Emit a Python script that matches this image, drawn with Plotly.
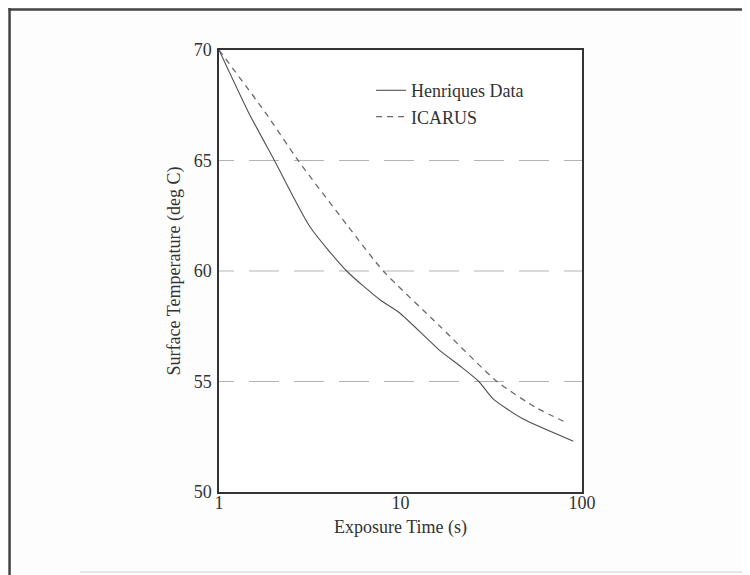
import plotly.graph_objects as go

henriques_t = [1.0, 1.45, 2.02, 3.17, 5.05, 7.7, 9.9, 16.5, 21.3, 27.0, 32.5, 47.5, 89.6]
henriques_temp = [70.0, 67.2, 65.0, 62.0, 60.0, 58.7, 58.1, 56.4, 55.7, 55.0, 54.2, 53.3, 52.3]

icarus_t = [1.0, 1.79, 2.73, 5.16, 8.04, 16.5, 34.0, 56.3, 84.0]
icarus_temp = [70.0, 67.2, 65.0, 62.0, 60.0, 57.5, 55.0, 53.8, 53.1]

x_ticks = [1, 10, 100]
y_ticks = [50, 55, 60, 65, 70]
grid_levels = [55, 60, 65]
grid_x_span = [0.827, 100]

font = "Liberation Serif, Times New Roman, serif"

fig = go.Figure()
for yv in grid_levels:
    fig.add_trace(go.Scatter(x=grid_x_span, y=[yv, yv], mode="lines", showlegend=False, hoverinfo="skip",
                             line=dict(color="#b3b3b3", width=1, dash="30px,15px")))

fig.add_trace(go.Scatter(x=henriques_t, y=henriques_temp, mode="lines", name="Henriques Data",
                         line=dict(color="#505050", width=1.1, shape="spline", smoothing=0.6)))
fig.add_trace(go.Scatter(x=icarus_t, y=icarus_temp, mode="lines", name="ICARUS",
                         line=dict(color="#6a6a6a", width=1.3, dash="6px,5px", shape="spline", smoothing=0.6)))

fig.update_layout(
    width=750, height=575,
    margin=dict(l=211, r=176, t=42, b=91),
    paper_bgcolor="#fdfdfd", plot_bgcolor="#ffffff",
    font=dict(family=font, size=18, color="#333333"),
    showlegend=True,
    legend=dict(x=0.419, y=0.95, xanchor="left", yanchor="top", bgcolor="rgba(0,0,0,0)",
                font=dict(family=font, size=18, color="#333333"), itemwidth=30, tracegroupgap=0),
    xaxis=dict(type="log", range=[0, 2], tickvals=x_ticks, ticktext=[str(v) for v in x_ticks],
               showgrid=False, showline=True, linecolor="#333333", linewidth=1.5, mirror=True,
               ticks="", zeroline=False, tickfont=dict(size=18), ticklabelstandoff=-6,
               title=dict(text="Exposure Time (s)", font=dict(size=18), standoff=8)),
    yaxis=dict(range=[50, 70], tickvals=y_ticks, showgrid=False, showline=True, linecolor="#333333",
               linewidth=1.5, mirror=True, ticks="", zeroline=False, tickfont=dict(size=18),
               ticklabelstandoff=2,
               title=dict(text="Surface Temperature (deg C)", font=dict(size=18), standoff=8)),
)

# outer frame
fig.add_shape(type="line", xref="paper", yref="paper", x0=-0.58, x1=1.47, y0=1.0916, y1=1.0916,
              line=dict(color="#444444", width=2.5))
fig.add_shape(type="line", xref="paper", yref="paper", x0=-0.577, x1=-0.577, y0=1.095, y1=-0.2,
              line=dict(color="#444444", width=2.5))
fig.add_shape(type="line", xref="paper", yref="paper", x0=-0.383, x1=1.47, y0=-0.181, y1=-0.181,
              line=dict(color="#d0d0d0", width=1))

fig.write_html("out.html")
